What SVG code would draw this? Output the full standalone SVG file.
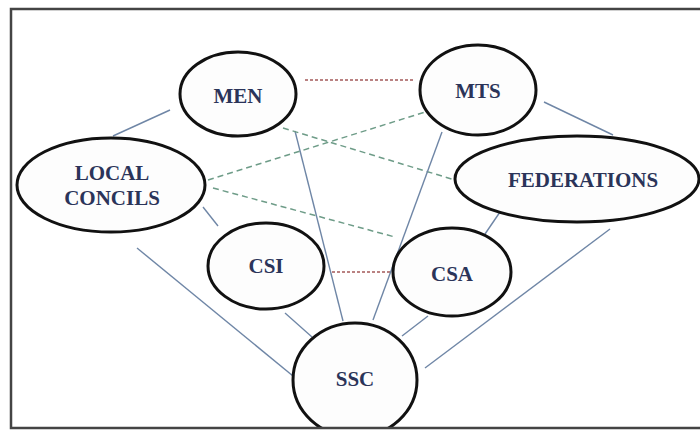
<svg xmlns="http://www.w3.org/2000/svg" width="700" height="431" viewBox="0 0 700 431">
<style>
.node ellipse{fill:#fdfdfd;stroke:#111;stroke-width:3}
.node text{font-family:"Liberation Serif","Times New Roman",serif;font-weight:bold;font-size:21px;fill:#2b3459;text-anchor:middle}
.solid{stroke:#6f86a6;stroke-width:1.4;fill:none}
.green{stroke:#6e9c88;stroke-width:1.5;stroke-dasharray:6,4;fill:none}
.red{stroke:#a45a5a;stroke-width:1.5;stroke-dasharray:3,2;fill:none}
.frame{stroke:#444;stroke-width:2.5;fill:none}
</style>
<rect x="0" y="0" width="700" height="431" fill="#ffffff"/>
<g id="connectors">
<line class="solid" x1="170" y1="110" x2="113" y2="136"/>
<line class="red" x1="305" y1="80" x2="413" y2="80"/>
<line class="solid" x1="295" y1="131" x2="343" y2="321"/>
<line class="green" x1="283" y1="128" x2="455" y2="180"/>
<line class="green" x1="208" y1="180" x2="425" y2="112"/>
<line class="green" x1="213" y1="188" x2="395" y2="237"/>
<line class="solid" x1="203" y1="207" x2="218" y2="226"/>
<line class="solid" x1="137" y1="248" x2="293" y2="376"/>
<line class="red" x1="332" y1="272" x2="393" y2="272"/>
<line class="solid" x1="285" y1="313" x2="312" y2="337"/>
<line class="solid" x1="544" y1="102" x2="613" y2="135"/>
<line class="solid" x1="442" y1="132" x2="373" y2="320"/>
<line class="solid" x1="500" y1="212" x2="485" y2="234"/>
<line class="solid" x1="428" y1="316" x2="402" y2="336"/>
<line class="solid" x1="610" y1="229" x2="425" y2="368"/>
</g>
<g id="MEN" class="node"><ellipse cx="238" cy="94" rx="58" ry="42"/><text x="238" y="103">MEN</text></g>
<g id="MTS" class="node"><ellipse cx="478" cy="90" rx="58" ry="45"/><text x="478" y="98">MTS</text></g>
<g id="FEDERATIONS" class="node"><ellipse cx="577" cy="179" rx="122" ry="43"/><text x="583" y="187">FEDERATIONS</text></g>
<g id="LOCAL_CONCILS" class="node"><ellipse cx="111" cy="185" rx="94" ry="47"/><text x="112" y="180">LOCAL</text><text x="112" y="205">CONCILS</text></g>
<g id="CSI" class="node"><ellipse cx="266" cy="266" rx="58" ry="43"/><text x="266" y="273">CSI</text></g>
<g id="CSA" class="node"><ellipse cx="452" cy="272" rx="59" ry="44"/><text x="452" y="281">CSA</text></g>
<g id="SSC" class="node"><ellipse cx="355" cy="380" rx="62" ry="57"/><text x="355" y="386">SSC</text></g>
<rect x="0" y="429" width="700" height="2" fill="#ffffff"/>
<polyline class="frame" points="701,9 11,9 11,428 701,428"/>
</svg>
